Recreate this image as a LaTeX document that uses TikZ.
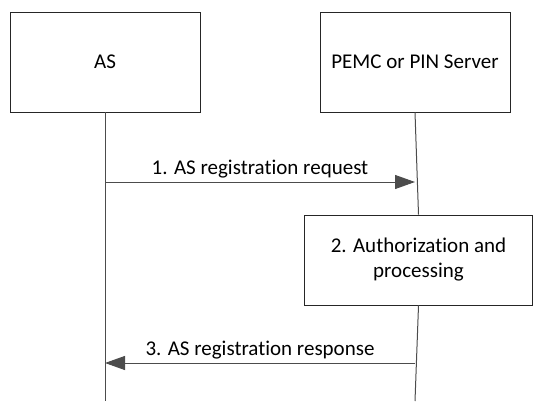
\documentclass[tikz,border=0pt]{standalone}
\usepackage{fontspec}
\setmainfont{Carlito}[Ligatures=NoCommon]
\usetikzlibrary{arrows.meta}
\begin{document}
\begin{tikzpicture}[x=1pt,y=-1pt,
  every node/.style={font=\fontsize{21}{25}\selectfont, text=black},
  entity/.style={draw=black!85, line width=0.9pt, minimum width=190pt, minimum height=100pt, inner sep=0pt},
  procbox/.style={draw=black!85, line width=0.9pt, minimum width=228pt, minimum height=90pt, inner sep=0pt, align=center},
  life/.style={draw=black!70, line width=1pt},
  msg/.style={draw=black!70, line width=1pt, -{Triangle[length=20pt,width=14pt]}, shorten >=0pt},
  lbl/.style={fill=none, inner sep=1pt}]
\useasboundingbox (0,0) rectangle (534,401);
\node[entity] (as) at (105,62) {AS};
\node[entity] (pemc) at (415,62) {PEMC or PIN Server};
\node[procbox] (proc) at (418.5,260) {2. Authorization and\\processing};
\coordinate (asend) at (105,401);
\coordinate (pend) at (415,401);
\coordinate (a1) at (105,182);
\coordinate (b1) at (415,182);
\coordinate (a3) at (105,363);
\coordinate (b3) at (415,363);
\draw[life] (as.south) -- (asend);
\draw[life] (pemc.south) -- (proc.north);
\draw[life] (proc.south) -- (pend);
\draw[msg] (a1) -- node[lbl, above=2pt] {1. AS registration request} (b1);
\draw[msg] (b3) -- node[lbl, above=2pt] {3. AS registration response} (a3);
\end{tikzpicture}
\end{document}
